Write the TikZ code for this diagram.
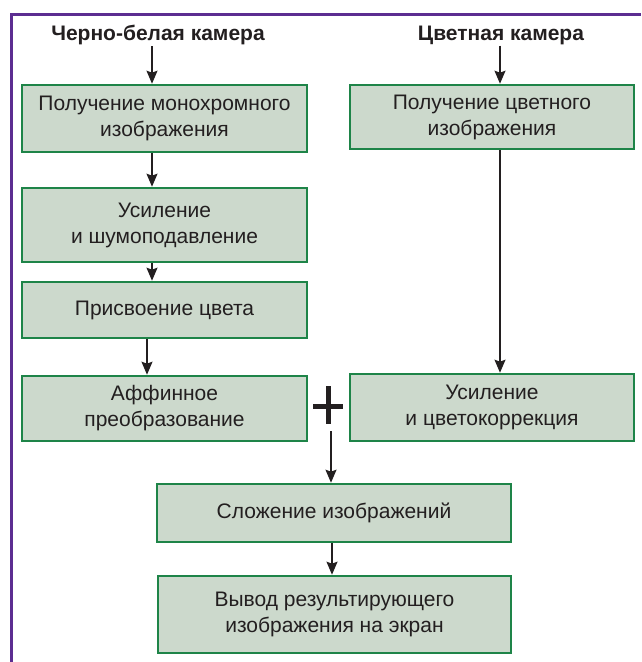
\documentclass[tikz,border=0pt]{standalone}
\usepackage{fontspec}
\setmainfont{Liberation Sans}
\usepackage{xcolor}
\usetikzlibrary{arrows.meta}

\definecolor{boxfill}{RGB}{204,217,204}
\definecolor{boxline}{RGB}{30,132,72}
\definecolor{framepurple}{RGB}{92,45,145}
\definecolor{txt}{RGB}{35,31,32}

\tikzset{
  stagebox/.style={draw=boxline,fill=boxfill,line width=2.6pt,inner sep=0pt,
    align=center,text=txt,font=\fontsize{21}{26}\selectfont},
  camtitle/.style={inner sep=1pt,text=txt,font=\fontsize{21}{26}\selectfont\bfseries},
  arr/.style={line width=1.7pt,draw=txt,-{Stealth[length=13pt,width=11pt,inset=2pt]}}
}

\begin{document}
\begin{tikzpicture}[x=1pt,y=-1pt]
  \useasboundingbox (0,0) rectangle (641,662);
  % frame
  \draw[framepurple,line width=3pt] (11,662) -- (11,14) -- (641,14);
  % cameras
  \node[camtitle] (bwcam) at (158,35) {Черно-белая камера};
  \node[camtitle] (colcam) at (501,35) {Цветная камера};
  % left branch
  \node[stagebox,minimum width=285,minimum height=67] (mono) at (164.5,118.5)
    {Получение монохромного\\изображения};
  \node[stagebox,minimum width=285,minimum height=74] (amp) at (164.5,225)
    {Усиление\\и шумоподавление};
  \node[stagebox,minimum width=285,minimum height=56] (color) at (164.5,310)
    {Присвоение цвета};
  \node[stagebox,minimum width=285,minimum height=65] (affine) at (164.5,408.5)
    {Аффинное\\преобразование};
  % right branch
  \node[stagebox,minimum width=284,minimum height=64] (colimg) at (492,117)
    {Получение цветного\\изображения};
  \node[stagebox,minimum width=284,minimum height=67] (colcorr) at (492,407.5)
    {Усиление\\и цветокоррекция};
  % sum and output
  \node[stagebox,minimum width=354,minimum height=58] (sum) at (334,513)
    {Сложение изображений};
  \node[stagebox,minimum width=353,minimum height=77] (out) at (334.5,614.5)
    {Вывод результирующего\\изображения на экран};
  % plus sign
  \draw[txt,line width=5pt] (313,406) -- (343,406) (328,386) -- (328,424);
  \coordinate (plusc) at (331,431);
  % arrow columns
  \coordinate (lcol) at (152,0);
  \coordinate (lcolb) at (147,0);
  \coordinate (rcol) at (500,0);
  \coordinate (mcol) at (332,0);
  \draw[arr] (bwcam.south -| lcol) -- (mono.north -| lcol);
  \draw[arr] (mono.south -| lcol) -- (amp.north -| lcol);
  \draw[arr] (amp.south -| lcol) -- (color.north -| lcol);
  \draw[arr] (color.south -| lcolb) -- (affine.north -| lcolb);
  \draw[arr] (colcam.south -| rcol) -- (colimg.north -| rcol);
  \draw[arr] (colimg.south -| rcol) -- (colcorr.north -| rcol);
  \draw[arr] (plusc) -- (sum.north -| plusc);
  \draw[arr] (sum.south -| mcol) -- (out.north -| mcol);
\end{tikzpicture}
\end{document}
